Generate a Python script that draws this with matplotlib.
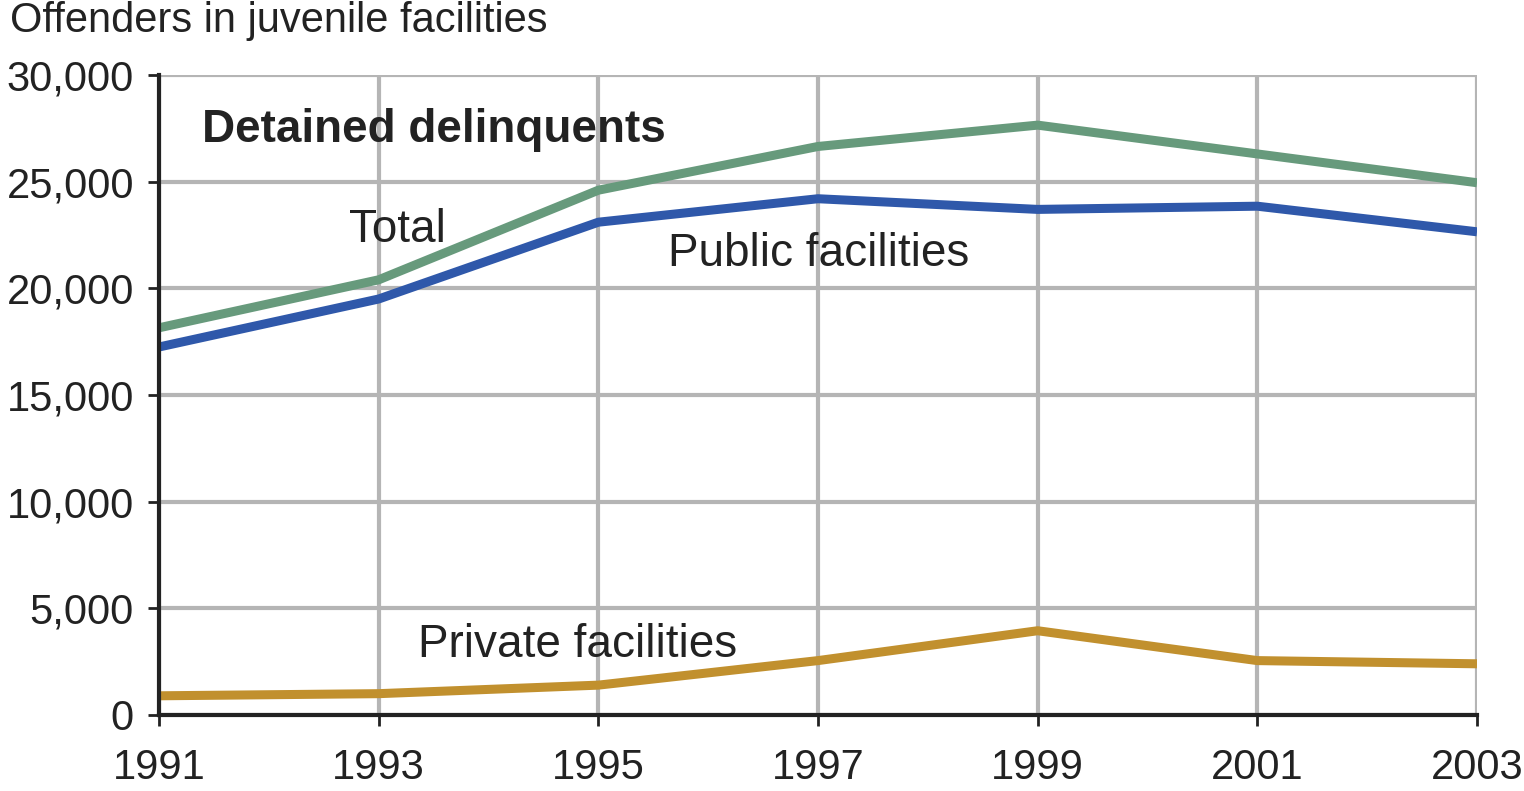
import matplotlib.pyplot as plt

plt.rcParams['font.family'] = ['Liberation Sans', 'DejaVu Sans']

# Detained delinquents in juvenile facilities
years = [1991, 1993, 1995, 1997, 1999, 2001, 2003]
total = [18150, 20400, 24600, 26650, 27650, 26300, 24950]
public = [17250, 19500, 23100, 24200, 23700, 23850, 22650]
private = [900, 1000, 1400, 2550, 3950, 2550, 2400]

y_ticks = [0, 5000, 10000, 15000, 20000, 25000, 30000]
y_labels = ['0', '5,000', '10,000', '15,000', '20,000', '25,000', '30,000']

fig = plt.figure(figsize=(15.24, 7.91), dpi=100)
ax = fig.add_axes([159 / 1524, 1 - 715 / 791, 1318 / 1524, 640 / 791])

grid_col = '#b5b5b5'
ax.plot(years, total, color='#679a7c', lw=6.5, solid_capstyle='butt', zorder=3)
ax.plot(years, public, color='#2f58aa', lw=6.5, solid_capstyle='butt', zorder=3)
ax.plot(years, private, color='#c1902e', lw=6.5, solid_capstyle='butt', zorder=3)

ax.set_xlim(1991, 2003)
ax.set_ylim(0, 30000)
ax.set_xticks(years)
ax.set_xticklabels([str(y) for y in years])
ax.set_yticks(y_ticks)
ax.set_yticklabels(y_labels)
ax.grid(True, color=grid_col, lw=3)
ax.set_axisbelow(True)

for s in ['top', 'right']:
    ax.spines[s].set_visible(False)
for s in ['left', 'bottom']:
    ax.spines[s].set_linewidth(3)
    ax.spines[s].set_color('#222222')
    ax.spines[s].set_zorder(4)
ax.tick_params(axis='both', length=8, width=2, color='#222222',
               labelsize=30, labelcolor='#222222')
ax.tick_params(axis='x', pad=16)
ax.tick_params(axis='y', pad=10)

ax.text(1991.39, 27400, 'Detained delinquents', fontsize=33, fontweight='bold',
        color='#222222', va='center', ha='left')
ax.text(1992.73, 22750, 'Total', fontsize=33, color='#222222', va='center', ha='left')
ax.text(1995.63, 21600, 'Public facilities', fontsize=33, color='#222222',
        va='center', ha='left')
ax.text(1993.36, 3300, 'Private facilities', fontsize=33, color='#222222',
        va='center', ha='left')

fig.text(10 / 1524, 1 - 21 / 791, 'Offenders in juvenile facilities', fontsize=30,
         color='#222222', va='center', ha='left')

fig.savefig('out.png', dpi=100)
